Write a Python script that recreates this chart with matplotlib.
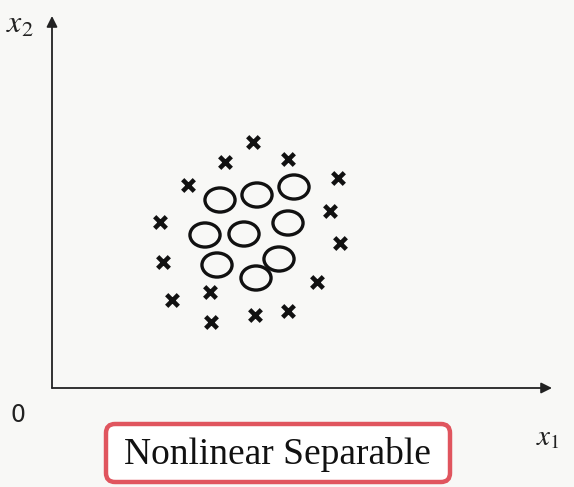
import numpy as np
import matplotlib.pyplot as plt
from matplotlib.path import Path
from matplotlib.patches import FancyBboxPatch

# x-class points (x1, x2)
cross_x1 = [201, 173, 236, 136, 286, 278, 108, 288, 111, 265, 120, 158, 236, 203, 159]
cross_x2 = [246, 226, 229, 203, 210, 177, 166, 145, 126, 106, 88, 96, 77, 73, 66]

# o-class points (x1, x2)
circle_x1 = [168, 205, 242, 153, 192, 236, 165, 227, 204]
circle_x2 = [188, 193, 201, 153, 154, 165, 123, 129, 110]

box_text = "Nonlinear Separable"

plt.rcParams['mathtext.fontset'] = 'stix'

fig = plt.figure(figsize=(5.74, 4.87), dpi=100)
fig.patch.set_facecolor('#f8f8f6')
ax = fig.add_axes([0, 0, 1, 1])
ax.set_facecolor('#f8f8f6')
ax.set_xlim(-52, 522)
ax.set_ylim(-99, 388)
ax.axis('off')

# axes arrows
arrow = dict(arrowstyle='-|>', lw=1.3, color='#222222', mutation_scale=16, shrinkA=0, shrinkB=0)
ax.annotate('', xy=(0, 372), xytext=(0, 0), arrowprops=arrow)
ax.annotate('', xy=(500, 0), xytext=(0, 0), arrowprops=arrow)

# flattened circle marker
circ = Path.unit_circle()
oval = Path(circ.vertices * np.array([1.0, 0.8]), circ.codes)

ax.scatter(cross_x1, cross_x2, marker='x', s=70, linewidths=3.3, color='#111111', zorder=3)
ax.scatter(circle_x1, circle_x2, marker=oval, s=470, facecolors='none',
           edgecolors='#111111', linewidths=2.4, zorder=3)

ax.text(-32, 364, '$x_2$', fontsize=23, ha='center', va='center', color='#222222')
ax.text(496, -49, '$x_1$', fontsize=21, ha='center', va='center', color='#222222')
ax.text(-34, -27, '0', fontsize=17, ha='center', va='center', color='#222222')

box = FancyBboxPatch((54, -94), 344, 58, boxstyle='round,pad=0,rounding_size=9',
                     fc='white', ec='#e0555e', lw=3.2, zorder=2)
ax.add_patch(box)
ax.text(225, -66, box_text, fontsize=27, family='Liberation Serif',
        ha='center', va='center', color='#111111', zorder=3)

fig.savefig('out.png', dpi=100, facecolor=fig.get_facecolor())
